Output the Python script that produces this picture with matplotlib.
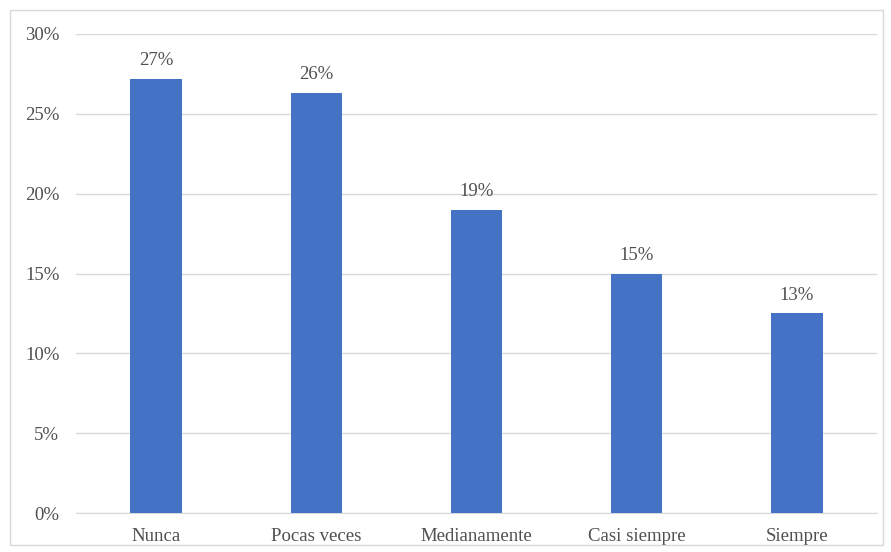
import matplotlib.pyplot as plt
from matplotlib.patches import Rectangle
from matplotlib.ticker import PercentFormatter

categories = ['Nunca', 'Pocas veces', 'Medianamente', 'Casi siempre', 'Siempre']
values = [27.2, 26.3, 19.0, 15.0, 12.5]
labels = ['27%', '26%', '19%', '15%', '13%']

plt.rcParams['font.family'] = ['Liberation Serif', 'DejaVu Serif']

fig = plt.figure(figsize=(8.91, 5.52), dpi=100)
ax = fig.add_axes([76 / 891, 1 - 513 / 552, 801 / 891, 479 / 552])

# light frame around the whole chart
fig.patches.append(Rectangle((10 / 891, 7 / 552), 873 / 891, 535 / 552,
                             transform=fig.transFigure, fill=False,
                             edgecolor='#d9d9d9', linewidth=1))

x = range(len(categories))
ax.bar(x, values, width=0.32, color='#4472C4', zorder=3)
for i, (v, lab) in enumerate(zip(values, labels)):
    ax.text(i, v + 0.6, lab, ha='center', va='bottom', fontsize=13.5, color='#505050')

ax.set_xlim(-0.5, len(categories) - 0.5)
ax.set_ylim(0, 30)
ax.set_yticks(range(0, 31, 5))
ax.yaxis.set_major_formatter(PercentFormatter(decimals=0))
ax.set_xticks(list(x))
ax.set_xticklabels(categories)
ax.grid(axis='y', color='#d9d9d9', linewidth=1, zorder=0)
for s in ['top', 'right', 'left']:
    ax.spines[s].set_visible(False)
ax.spines['bottom'].set_color('#d9d9d9')
ax.tick_params(axis='both', length=0, labelsize=13.5, labelcolor='#505050')
ax.tick_params(axis='y', pad=12)
ax.tick_params(axis='x', pad=11)

fig.savefig('out.png', dpi=100)
